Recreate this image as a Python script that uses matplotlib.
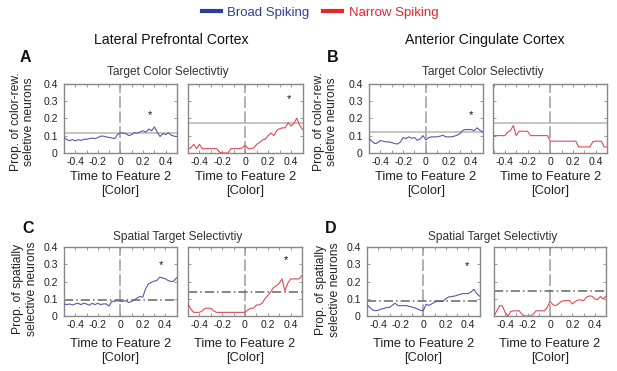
import numpy as np
import matplotlib
matplotlib.use('Agg')
import matplotlib.pyplot as plt
from matplotlib.lines import Line2D
from matplotlib.ticker import MultipleLocator, FixedLocator

plt.rcParams['font.family'] = ['Liberation Sans', 'DejaVu Sans']

W, H, DPI = 617, 371, 100

# ---------------- data ----------------
time_s = np.linspace(-0.5, 0.5, 41)

lpfc_color_bs = [0.089, 0.077, 0.071, 0.077, 0.070, 0.077, 0.072, 0.079, 0.079, 0.083,
                 0.085, 0.083, 0.089, 0.097, 0.097, 0.093, 0.089, 0.087, 0.083, 0.108,
                 0.115, 0.115, 0.110, 0.100, 0.106, 0.118, 0.114, 0.122, 0.128, 0.120,
                 0.138, 0.128, 0.150, 0.120, 0.095, 0.112, 0.106, 0.116, 0.102, 0.097,
                 0.095]
lpfc_color_ns = [0.025, 0.030, 0.050, 0.025, 0.050, 0.025, 0.025, 0.025, 0.025, 0.025,
                 0.025, 0.005, 0.000, 0.000, 0.000, 0.025, 0.025, 0.025, 0.025, 0.030,
                 0.045, 0.025, 0.025, 0.030, 0.050, 0.060, 0.075, 0.080, 0.100, 0.115,
                 0.100, 0.130, 0.140, 0.145, 0.145, 0.175, 0.155, 0.170, 0.200, 0.160,
                 0.135]
acc_color_bs = [0.083, 0.068, 0.054, 0.058, 0.072, 0.068, 0.064, 0.064, 0.060, 0.054,
                0.052, 0.062, 0.089, 0.083, 0.093, 0.085, 0.089, 0.073, 0.081, 0.100,
                0.075, 0.089, 0.093, 0.093, 0.093, 0.097, 0.102, 0.093, 0.093, 0.093,
                0.097, 0.102, 0.112, 0.131, 0.135, 0.135, 0.135, 0.128, 0.145, 0.131,
                0.120]
acc_color_ns = [0.100, 0.100, 0.100, 0.100, 0.100, 0.120, 0.130, 0.158, 0.100, 0.125,
                0.125, 0.125, 0.125, 0.100, 0.100, 0.100, 0.100, 0.100, 0.100, 0.100,
                0.068, 0.068, 0.068, 0.068, 0.068, 0.068, 0.068, 0.068, 0.068, 0.068,
                0.035, 0.035, 0.035, 0.035, 0.035, 0.065, 0.068, 0.068, 0.068, 0.035,
                0.035]
lpfc_spatial_bs = [0.070, 0.066, 0.070, 0.064, 0.070, 0.074, 0.066, 0.074, 0.070, 0.062,
                   0.074, 0.066, 0.074, 0.066, 0.070, 0.070, 0.058, 0.085, 0.085, 0.089,
                   0.085, 0.085, 0.089, 0.078, 0.085, 0.093, 0.105, 0.113, 0.109, 0.157,
                   0.186, 0.194, 0.202, 0.206, 0.225, 0.221, 0.216, 0.206, 0.200, 0.202,
                   0.221]
lpfc_spatial_ns = [0.070, 0.040, 0.021, 0.021, 0.021, 0.030, 0.045, 0.045, 0.045, 0.030,
                   0.021, 0.021, 0.021, 0.021, 0.021, 0.021, 0.021, 0.021, 0.021, 0.021,
                   0.021, 0.035, 0.045, 0.045, 0.064, 0.064, 0.074, 0.100, 0.118, 0.140,
                   0.165, 0.175, 0.190, 0.215, 0.145, 0.190, 0.215, 0.215, 0.215, 0.215,
                   0.235]
acc_spatial_bs = [0.064, 0.050, 0.035, 0.031, 0.033, 0.041, 0.043, 0.049, 0.050, 0.062,
                  0.074, 0.060, 0.060, 0.060, 0.060, 0.056, 0.052, 0.047, 0.041, 0.033,
                  0.030, 0.068, 0.062, 0.070, 0.080, 0.085, 0.085, 0.085, 0.100, 0.110,
                  0.113, 0.115, 0.120, 0.125, 0.130, 0.130, 0.130, 0.140, 0.155, 0.130,
                  0.115]
acc_spatial_ns = [0.000, 0.030, 0.060, 0.058, 0.020, 0.000, 0.027, 0.030, 0.030, 0.030,
                  0.010, 0.000, 0.000, 0.000, 0.010, 0.030, 0.030, 0.030, 0.030, 0.050,
                  0.085, 0.066, 0.060, 0.070, 0.085, 0.089, 0.089, 0.089, 0.070, 0.083,
                  0.093, 0.093, 0.089, 0.109, 0.116, 0.115, 0.099, 0.095, 0.113, 0.099,
                  0.115]

# chance thresholds
thr_lpfc_color = [0.115, 0.175]
thr_acc_color = [0.12, 0.175]
thr_lpfc_spatial = [0.09, 0.14]
thr_acc_spatial = [0.085, 0.145]

# significance stars (time, value); None = no star
stars_lpfc_color = [(0.26, 0.22), (0.38, 0.31)]
stars_acc_color = [(0.40, 0.22), None]
stars_lpfc_spatial = [(0.36, 0.295), (0.36, 0.325)]
stars_acc_spatial = [(0.385, 0.29), None]

legend_labels = ['Broad Spiking', 'Narrow Spiking']
region_titles = ['Lateral Prefrontal Cortex', 'Anterior Cingulate Cortex']
row_titles = ['Target Color Selectivtiy', 'Spatial Target Selectivtiy']
row_ylabels = ['Prop. of color-rew.\nseletive neurons', 'Prop. of spatially\nselective neurons']
panel_letters = ['A', 'B', 'C', 'D']
xlabel_text = 'Time to Feature 2\n[Color]'
xticks = [-0.4, -0.2, 0, 0.2, 0.4]
xticklabels = ['-0.4', '-0.2', '0', '0.2', '0.4']
yticks = [0, 0.1, 0.2, 0.3, 0.4]
yticklabels = ['0', '0.1', '0.2', '0.3', '0.4']

# ---------------- style ----------------
BLUE_LINE = '#5459ad'
RED_LINE = '#e14a56'
BLUE_LEG = '#2e3f98'
RED_LEG = '#e5262d'
SPINE = '#888888'

fig = plt.figure(figsize=(W / DPI, H / DPI), dpi=DPI)


def box(l, t, r, b):
    return [l / W, 1 - b / H, (r - l) / W, (b - t) / H]


def fx(x):
    return x / W


def fy(y):
    return 1 - y / H


boxes = [
    [(64, 83.5, 177, 153), (188, 83.5, 302.5, 153)],
    [(369, 83.5, 482.7, 153), (493.5, 83.5, 607, 153)],
    [(64, 247, 176.5, 316), (188, 247, 302, 316)],
    [(367, 247, 479.5, 316), (494, 247, 606, 316)],
]
series = [
    (lpfc_color_bs, lpfc_color_ns, thr_lpfc_color, stars_lpfc_color, 0),
    (acc_color_bs, acc_color_ns, thr_acc_color, stars_acc_color, 0),
    (lpfc_spatial_bs, lpfc_spatial_ns, thr_lpfc_spatial, stars_lpfc_spatial, 1),
    (acc_spatial_bs, acc_spatial_ns, thr_acc_spatial, stars_acc_spatial, 1),
]

for p, (bs, ns, thr, stars, row) in enumerate(series):
    for k, (vals, col) in enumerate([(bs, BLUE_LINE), (ns, RED_LINE)]):
        ax = fig.add_axes(box(*boxes[p][k]))
        ax.set_xlim(-0.5, 0.5)
        ax.set_ylim(0, 0.4)
        ax.axvline(0, color='#a3a3a3', lw=1.2, dashes=(7, 2), zorder=1)
        if row == 0:
            ax.axhline(thr[k], color='#b5b5b5', lw=1.1, zorder=1)
        else:
            ax.axhline(thr[k], color='#666666', lw=1.1, dashes=(6, 2, 1, 2), zorder=1)
        ax.plot(time_s, vals, color=col, lw=0.8, zorder=3)
        if stars[k] is not None:
            ax.text(stars[k][0], stars[k][1], '*', ha='center', va='center',
                    fontsize=8, color='#111111')
        ax.xaxis.set_major_locator(FixedLocator(xticks))
        ax.set_xticklabels(xticklabels)
        ax.xaxis.set_minor_locator(MultipleLocator(0.1))
        ax.set_yticks(yticks)
        if k == 0:
            ax.set_yticklabels(yticklabels)
        else:
            ax.set_yticklabels([])
        ax.tick_params(which='both', direction='in', length=2.5, width=0.6,
                       color=SPINE, top=True, right=True, labelsize=7.6,
                       labelcolor='#222222')
        ax.tick_params(axis='x', pad=3)
        ax.tick_params(axis='y', pad=4.5)
        for s in ax.spines.values():
            s.set_color(SPINE)
            s.set_linewidth(1.0)
        l, t, r, b = boxes[p][k]
        xc = (l + r) / 2
        yc = 184 if row == 0 else 351
        fig.text(fx(xc), fy(yc), xlabel_text, ha='center', va='center',
                 multialignment='center', fontsize=9.3, linespacing=1.15,
                 color='#222222')

# titles
fig.text(fx(171.7), fy(40), region_titles[0], ha='center', va='center', fontsize=10.2, color='#111111')
fig.text(fx(485), fy(40), region_titles[1], ha='center', va='center', fontsize=10.2, color='#111111')

# subtitles
fig.text(fx(168), fy(72), row_titles[0], ha='center', va='center', fontsize=8.6, color='#333333')
fig.text(fx(482.5), fy(72), row_titles[0], ha='center', va='center', fontsize=8.6, color='#333333')
fig.text(fx(178), fy(237), row_titles[1], ha='center', va='center', fontsize=8.6, color='#333333')
fig.text(fx(493), fy(237), row_titles[1], ha='center', va='center', fontsize=8.6, color='#333333')

# panel letters
for letter, (x, y) in zip(panel_letters, [(20, 57), (327, 57), (22, 228), (325, 228)]):
    fig.text(fx(x), fy(y), letter, ha='left', va='center', fontsize=11.5,
             fontweight='bold', color='#111111')

# y labels
for txt, (x, y) in zip([row_ylabels[0], row_ylabels[0], row_ylabels[1], row_ylabels[1]],
                       [(22.5, 122), (325.5, 122), (25, 289), (328, 290)]):
    fig.text(fx(x), fy(y), txt, rotation=90, ha='center', va='center',
             multialignment='center', fontsize=8.7, linespacing=1.15, color='#222222')

# legend
handles = [Line2D([], [], color=BLUE_LEG, lw=3), Line2D([], [], color=RED_LEG, lw=3)]
leg = fig.legend(handles, legend_labels, loc='center', bbox_to_anchor=(fx(320), fy(13)),
                 ncol=2, frameon=False, fontsize=9.5, handlelength=1.45,
                 handletextpad=0.5, columnspacing=1.0, borderaxespad=0, borderpad=0)
for txt, c in zip(leg.get_texts(), [BLUE_LEG, RED_LEG]):
    txt.set_color(c)

fig.savefig('out.png', dpi=DPI)
